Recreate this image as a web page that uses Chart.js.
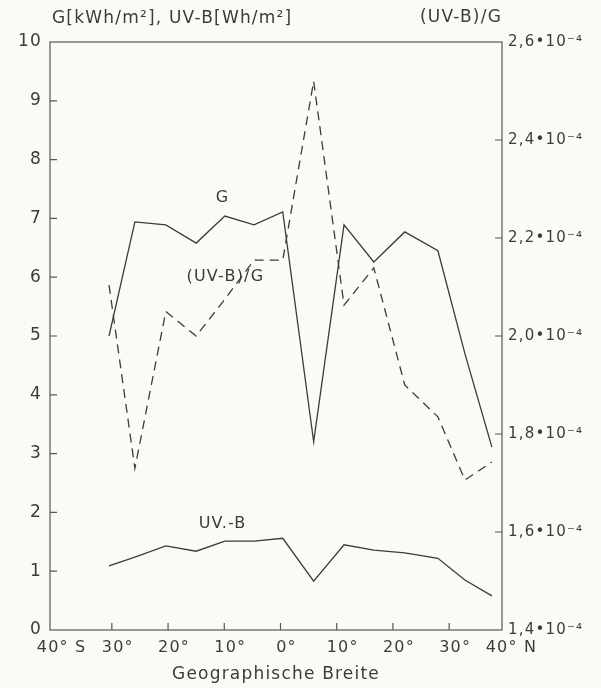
<!DOCTYPE html>
<html>
<head>
<meta charset="utf-8">
<script src="https://cdn.jsdelivr.net/npm/chart.js@4"></script>
<style>
  html, body { margin: 0; padding: 0; background: #fbfbf6; }
  canvas { display: block; }
</style>
</head>
<body>
<canvas id="breiteChart" width="601" height="688"></canvas>
<script>
// --- data ---
const latitudes = [-30.5, -25.9, -20.4, -15, -9.9, -4.7, 0.4, 5.9, 11.3, 16.6, 22.1, 28, 32.8, 37.6];
const globalG = [5.0, 6.94, 6.89, 6.58, 7.04, 6.89, 7.11, 3.2, 6.89, 6.26, 6.77, 6.45, 4.7, 3.11];
const uvB = [1.09, 1.24, 1.43, 1.34, 1.51, 1.51, 1.56, 0.83, 1.45, 1.36, 1.31, 1.22, 0.85, 0.58];
const ratioE4 = [2.104, 1.73, 2.05, 2.0, 2.075, 2.155, 2.155, 2.52, 2.063, 2.139, 1.90, 1.835, 1.706, 1.743]; // (UV-B)/G in 1e-4

const xTickValues = [-40, -30, -20, -10, 0, 10, 20, 30, 40];
const xTickLabels = ['40° S', '30°', '20°', '10°', '0°', '10°', '20°', '30°', '40° N'];
const leftTickValues = [0, 1, 2, 3, 4, 5, 6, 7, 8, 9, 10];
const rightTickValues = [1.4, 1.6, 1.8, 2.0, 2.2, 2.4, 2.6];

const ink = '#3b3b3b';
const fontFam = '"DejaVu Sans", sans-serif';

const toXY = (ys) => latitudes.map((x, i) => ({ x: x, y: ys[i] }));

// the scanned lettering is wide, so space all canvas text a little
const spacingPlugin = {
    id: 'spacing',
    beforeInit(chart) { chart.ctx.letterSpacing = '1.2px'; },
    beforeUpdate(chart) { chart.ctx.letterSpacing = '1.2px'; }
};

// box, inward tick marks and the free text on the plot
const decorPlugin = {
    id: 'decor',
    afterDraw(chart) {
        const { ctx, chartArea: a, scales } = chart;
        ctx.save();
        ctx.strokeStyle = '#555';
        ctx.lineWidth = 1.2;
        ctx.strokeRect(a.left, a.top, a.right - a.left, a.bottom - a.top);

        const len = 7;
        ctx.beginPath();
        leftTickValues.slice(1, -1).forEach(v => {
            const y = scales.y.getPixelForValue(v);
            ctx.moveTo(a.left, y); ctx.lineTo(a.left + len, y);
        });
        rightTickValues.slice(1, -1).forEach(v => {
            const y = scales.yR.getPixelForValue(v);
            ctx.moveTo(a.right, y); ctx.lineTo(a.right - len, y);
        });
        xTickValues.slice(1, -1).forEach(v => {
            const x = scales.x.getPixelForValue(v);
            ctx.moveTo(x, a.bottom); ctx.lineTo(x, a.bottom - len);
        });
        ctx.stroke();

        ctx.fillStyle = ink;
        ctx.textBaseline = 'middle';
        ctx.font = '17px ' + fontFam;
        ctx.textAlign = 'left';
        ctx.fillText('G[kWh/m²], UV-B[Wh/m²]', 52, 19);
        ctx.textAlign = 'right';
        ctx.fillText('(UV-B)/G', 502, 18);

        // series labels
        ctx.textAlign = 'center';
        ctx.font = '16px ' + fontFam;
        const sx = scales.x, sy = scales.y;
        ctx.fillText('G', sx.getPixelForValue(-10.3), sy.getPixelForValue(7.35));
        ctx.fillText('(UV-B)/G', sx.getPixelForValue(-9.8), sy.getPixelForValue(6.0));
        ctx.fillText('UV.-B', sx.getPixelForValue(-10.3), sy.getPixelForValue(1.8));
        ctx.restore();
    }
};

new Chart(document.getElementById('breiteChart'), {
    type: 'line',
    data: {
        datasets: [
            {
                label: 'G',
                data: toXY(globalG),
                yAxisID: 'y',
                borderColor: ink,
                borderWidth: 1.3,
                pointRadius: 0,
                tension: 0
            },
            {
                label: 'UV-B',
                data: toXY(uvB),
                yAxisID: 'y',
                borderColor: ink,
                borderWidth: 1.3,
                pointRadius: 0,
                tension: 0
            },
            {
                label: '(UV-B)/G',
                data: toXY(ratioE4),
                yAxisID: 'yR',
                borderColor: ink,
                borderWidth: 1.3,
                borderDash: [9, 6],
                pointRadius: 0,
                tension: 0
            }
        ]
    },
    options: {
        responsive: false,
        animation: false,
        layout: { padding: { top: 42, left: 0, right: 0, bottom: 0 } },
        plugins: {
            legend: { display: false },
            tooltip: { enabled: false }
        },
        scales: {
            x: {
                type: 'linear',
                min: -41,
                max: 39.4,
                afterBuildTicks: (s) => { s.ticks = xTickValues.map(v => ({ value: v })); },
                afterFit: (s) => { s.height = 58; },
                grid: { display: false, drawTicks: false },
                border: { display: false },
                ticks: {
                    padding: 8,
                    labelOffset: 6,
                    color: ink,
                    font: { family: fontFam, size: 16 },
                    maxRotation: 0,
                    callback: (v) => xTickLabels[xTickValues.indexOf(v)]
                },
                title: {
                    display: true,
                    text: 'Geographische Breite',
                    color: ink,
                    font: { family: fontFam, size: 17 },
                    padding: { top: 0, bottom: 3 }
                }
            },
            y: {
                position: 'left',
                min: 0,
                max: 10,
                afterBuildTicks: (s) => { s.ticks = leftTickValues.map(v => ({ value: v })); },
                afterFit: (s) => { s.width = 50; },
                grid: { display: false, drawTicks: false },
                border: { display: false },
                ticks: {
                    padding: 8,
                    color: ink,
                    font: { family: fontFam, size: 17 }
                }
            },
            yR: {
                position: 'right',
                min: 1.4,
                max: 2.6,
                afterBuildTicks: (s) => { s.ticks = rightTickValues.map(v => ({ value: v })); },
                afterFit: (s) => { s.width = 99; },
                grid: { display: false, drawTicks: false },
                border: { display: false },
                ticks: {
                    padding: 6,
                    color: ink,
                    font: { family: fontFam, size: 15 },
                    callback: (v) => v.toFixed(1).replace('.', ',') + '•10⁻⁴'
                }
            }
        }
    },
    plugins: [spacingPlugin, decorPlugin]
});
</script>
</body>
</html>
